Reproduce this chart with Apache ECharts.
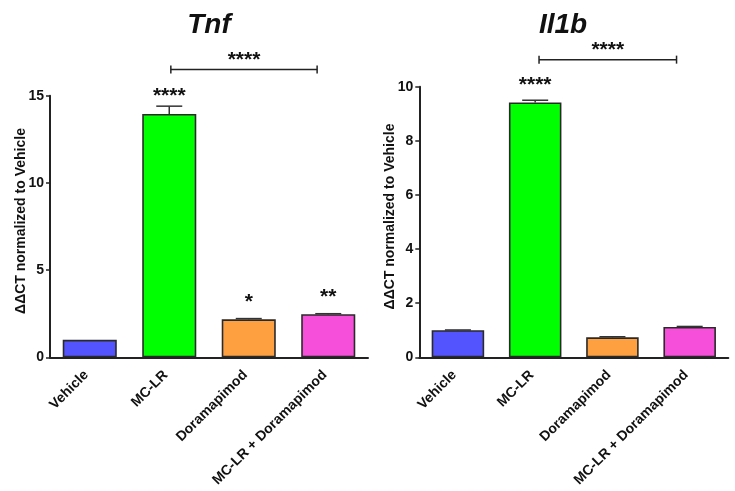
<!DOCTYPE html>
<html><head><meta charset="utf-8">
<script src="https://cdn.jsdelivr.net/npm/echarts@6/dist/echarts.min.js"></script>
<style>html,body{margin:0;padding:0;background:#fff}#c{width:735px;height:491px}</style>
</head><body><div id="c"></div>
<script>
const categories = ['Vehicle', 'MC-LR', 'Doramapimod', 'MC-LR + Doramapimod'];
const barColors = ['#5454FF', '#00FF00', '#FFA040', '#F64FD9'];
const tnfValues = [1.0, 13.95, 2.18, 2.47];
const tnfErrors = [0.0, 0.45, 0.04, 0.03];
const tnfSig = ['', '****', '*', '**'];
const il1bValues = [1.0, 9.42, 0.74, 1.12];
const il1bErrors = [0.01, 0.08, 0.02, 0.02];
const il1bSig = ['', '****', '', ''];
const tnfTicks = { min: 0, max: 15, interval: 5 };
const il1bTicks = { min: 0, max: 10, interval: 2 };
// bracket: [start category pos, end category pos, y value, label]
const tnfBracket = [1.02, 2.86, 16.5, '****'];
const il1bBracket = [1.05, 2.83, 11.0, '****'];
const titles = ['Tnf', 'Il1b'];
const yName = 'ΔΔCT normalized to Vehicle';

const FONT = '"Liberation Sans", Arial, sans-serif';
const INK = '#111';
const SIGFONT = 'bold 21px ' + FONT;

function xAxisCfg(gi) {
  return {
    type: 'category', gridIndex: gi, data: categories,
    axisLine: { lineStyle: { color: '#222', width: 2 } },
    axisTick: { alignWithLabel: true, length: 4, lineStyle: { color: '#222', width: 1.5 } },
    axisLabel: { rotate: 45, interval: 0, margin: 12, padding: [0, 5, 0, 0], color: INK, fontFamily: FONT, fontWeight: 'bold', fontSize: 14 }
  };
}
function yAxisCfg(gi, t) {
  return {
    type: 'value', gridIndex: gi, min: t.min, max: t.max, interval: t.interval,
    name: yName, nameLocation: 'middle', nameGap: 22, nameMoveOverlap: false,
    nameTextStyle: { color: INK, fontFamily: FONT, fontWeight: 'bold', fontSize: 14, padding: [0, 0, 0, 11] },
    splitLine: { show: false },
    axisLine: { show: true, lineStyle: { color: '#222', width: 2 } },
    axisTick: { show: true, length: 4, lineStyle: { color: '#222', width: 1.5 } },
    axisLabel: { margin: 6, color: INK, fontFamily: FONT, fontWeight: 'bold', fontSize: 14 }
  };
}
function barSeries(gi, vals) {
  return {
    type: 'bar', xAxisIndex: gi, yAxisIndex: gi, barWidth: '68%',
    data: vals.map((v, i) => ({ value: v, itemStyle: { color: barColors[i] } })),
    itemStyle: { borderColor: '#2a2a2a', borderWidth: 1.6 },
    silent: true
  };
}
function errSeries(gi, vals, errs, sig) {
  return {
    type: 'custom', xAxisIndex: gi, yAxisIndex: gi, clip: false, silent: true, z: 5,
    data: vals.map((v, i) => [i, v, errs[i]]),
    renderItem: function (params, api) {
      const i = api.value(0), v = api.value(1), e = api.value(2);
      const base = api.coord([i, v]);
      const top = api.coord([i, v + e]);
      const children = [];
      if (e > 0) {
        children.push({ type: 'line', shape: { x1: base[0], y1: base[1], x2: top[0], y2: top[1] }, style: { stroke: '#333', lineWidth: 1.5 } });
        children.push({ type: 'line', shape: { x1: top[0] - 13, y1: top[1], x2: top[0] + 13, y2: top[1] }, style: { stroke: '#333', lineWidth: 1.5 } });
      }
      if (sig[i]) {
        children.push({ type: 'text', style: { text: sig[i], x: base[0], y: base[1] - 7, align: 'center', verticalAlign: 'bottom', fill: INK, font: SIGFONT } });
      }
      return { type: 'group', children: children };
    }
  };
}
function bracketSeries(gi, b) {
  return {
    type: 'custom', xAxisIndex: gi, yAxisIndex: gi, clip: false, silent: true, z: 5,
    data: [[b[0], b[1], b[2]]],
    renderItem: function (params, api) {
      const s = api.value(0), en = api.value(1), y = api.value(2);
      const band = api.size([1, 0])[0];
      const p0 = api.coord([Math.floor(s), y]);
      const p1 = api.coord([Math.floor(en), y]);
      const x0 = p0[0] + (s - Math.floor(s)) * band;
      const x1 = p1[0] + (en - Math.floor(en)) * band;
      const yy = p0[1];
      const st = { stroke: '#222', lineWidth: 1.5 };
      return { type: 'group', children: [
        { type: 'line', shape: { x1: x0, y1: yy, x2: x1, y2: yy }, style: st },
        { type: 'line', shape: { x1: x0, y1: yy - 4, x2: x0, y2: yy + 4 }, style: st },
        { type: 'line', shape: { x1: x1, y1: yy - 4, x2: x1, y2: yy + 4 }, style: st },
        { type: 'text', style: { text: b[3], x: (x0 + x1) / 2, y: yy + 1, align: 'center', verticalAlign: 'bottom', fill: INK, font: SIGFONT } }
      ] };
    }
  };
}

const chart = echarts.init(document.getElementById('c'), null, { renderer: 'canvas' });
chart.setOption({
  backgroundColor: '#fff',
  animation: false,
  title: [
    { text: titles[0], left: 204, top: 6, textAlign: 'center', textStyle: { fontFamily: FONT, fontWeight: 'bold', fontStyle: 'italic', fontSize: 28, color: INK } },
    { text: titles[1], left: 558, top: 6, textAlign: 'center', textStyle: { fontFamily: FONT, fontWeight: 'bold', fontStyle: 'italic', fontSize: 28, color: INK } }
  ],
  grid: [
    { left: 50, right: 367, top: 95.7, bottom: 133.7 },
    { left: 419.3, right: 6.7, top: 86.7, bottom: 133.7 }
  ],
  xAxis: [xAxisCfg(0), xAxisCfg(1)],
  yAxis: [yAxisCfg(0, tnfTicks), yAxisCfg(1, il1bTicks)],
  series: [
    barSeries(0, tnfValues), errSeries(0, tnfValues, tnfErrors, tnfSig), bracketSeries(0, tnfBracket),
    barSeries(1, il1bValues), errSeries(1, il1bValues, il1bErrors, il1bSig), bracketSeries(1, il1bBracket)
  ]
});
</script>
</body></html>
